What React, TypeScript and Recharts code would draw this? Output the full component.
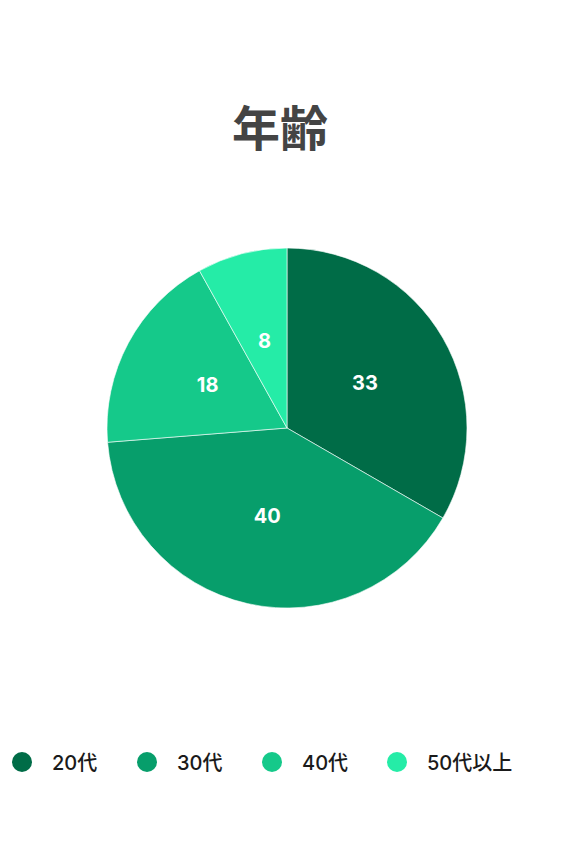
import React from "react";
import { PieChart, Pie, Cell, Legend } from "recharts";

const categories = ["20代", "30代", "40代", "50代以上"];
const values = [33, 40, 18, 8];
const colors = ["#006C47", "#079E6B", "#15C98A", "#25ECA7"];
const title = "年齢";

const data = categories.map((name, i) => ({ name, value: values[i] }));

const RADIAN = Math.PI / 180;

const renderLabel = (props: any) => {
  const { cx, cy, midAngle, outerRadius, value } = props;
  const r = outerRadius * 0.5;
  const x = cx + r * Math.cos(-midAngle * RADIAN);
  const y = cy + r * Math.sin(-midAngle * RADIAN);
  return (
    <text
      x={x}
      y={y}
      fill="#ffffff"
      textAnchor="middle"
      dominantBaseline="central"
      fontFamily="Inter, 'Noto Sans', sans-serif"
      fontWeight={700}
      fontSize={20}
    >
      {value}
    </text>
  );
};

const renderLegend = (props: any) => {
  const { payload } = props;
  return (
    <div style={{ display: "flex", flexDirection: "row" }}>
      {payload.map((entry: any, i: number) => (
        <div
          key={i}
          style={{ width: 125, display: "flex", alignItems: "center", flexShrink: 0 }}
        >
          <span
            style={{
              width: 20,
              height: 20,
              borderRadius: 10,
              background: entry.color,
              display: "inline-block",
              marginRight: 20,
              flexShrink: 0,
            }}
          />
          <span
            style={{
              fontFamily: "Inter, 'Noto Sans CJK JP', sans-serif",
              fontSize: 20,
              fontWeight: 500,
              color: "#1a1a1a",
              whiteSpace: "nowrap",
            }}
          >
            {entry.value}
          </span>
        </div>
      ))}
    </div>
  );
};

export default function App() {
  return (
    <div style={{ position: "relative", width: 552, height: 840, background: "#fff" }}>
      <div
        style={{
          position: "absolute",
          left: 0,
          width: 544,
          top: 86,
          textAlign: "center",
          fontFamily: "'Noto Sans CJK JP', sans-serif",
          fontWeight: 700,
          fontSize: 48,
          lineHeight: "62px",
          color: "#444",
        }}
      >
        {title}
      </div>
      <PieChart width={552} height={840} margin={{ top: 0, right: 0, bottom: 0, left: 0 }}>
        <Pie
          data={data}
          dataKey="value"
          nameKey="name"
          cx={279}
          cy={420}
          outerRadius={180}
          startAngle={90}
          endAngle={-270}
          stroke="#ffffff"
          strokeWidth={0.6}
          label={renderLabel}
          labelLine={false}
          isAnimationActive={false}
        >
          {data.map((d, i) => (
            <Cell key={d.name} fill={colors[i]} />
          ))}
        </Pie>
        <Legend
          content={renderLegend}
          wrapperStyle={{ position: "absolute", left: 4, top: 739, width: 560 }}
        />
      </PieChart>
    </div>
  );
}
